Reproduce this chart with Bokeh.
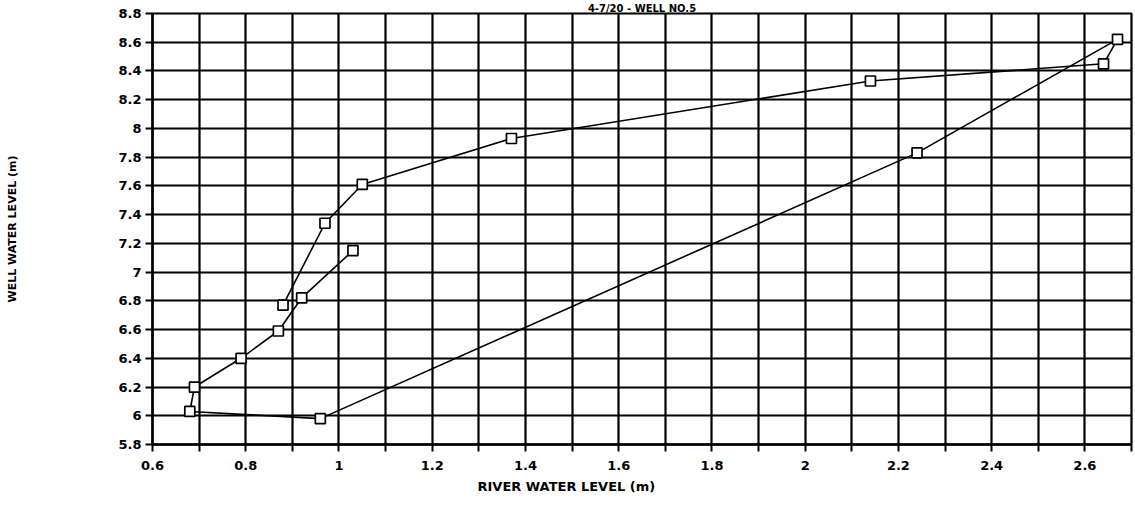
from bokeh.plotting import figure
from bokeh.models import Range1d, FixedTicker, Title
from bokeh.embed import file_html
from bokeh.resources import INLINE

# ---- data ----
river_level = [1.03, 0.92, 0.87, 0.79, 0.69, 0.68, 0.96, 2.24, 2.67, 2.64, 2.14, 1.37, 1.05, 0.97, 0.88]
well_level = [7.15, 6.82, 6.59, 6.40, 6.20, 6.03, 5.98, 7.83, 8.62, 8.45, 8.33, 7.93, 7.61, 7.34, 6.77]

x_ticks = [0.6, 0.8, 1.0, 1.2, 1.4, 1.6, 1.8, 2.0, 2.2, 2.4, 2.6]
x_tick_labels = ["0.6", "0.8", "1", "1.2", "1.4", "1.6", "1.8", "2", "2.2", "2.4", "2.6"]
x_minor = [0.7, 0.9, 1.1, 1.3, 1.5, 1.7, 1.9, 2.1, 2.3, 2.5, 2.7]
y_ticks = [5.8, 6.0, 6.2, 6.4, 6.6, 6.8, 7.0, 7.2, 7.4, 7.6, 7.8, 8.0, 8.2, 8.4, 8.6, 8.8]
y_tick_labels = ["5.8", "6", "6.2", "6.4", "6.6", "6.8", "7", "7.2", "7.4", "7.6", "7.8", "8", "8.2", "8.4", "8.6", "8.8"]

title_text = "4-7/20 - WELL NO.5"
x_title = "RIVER WATER LEVEL (m)"
y_title = "WELL WATER LEVEL (m)"

FONT = "DejaVu Sans"

p = figure(width=1133, height=498, output_backend="svg", toolbar_location=None,
           x_range=Range1d(0.6, 2.7), y_range=Range1d(5.8, 8.8),
           min_border_left=152, min_border_right=2, min_border_top=13, min_border_bottom=20,
           background_fill_color="white", border_fill_color="white")

# top title (small, right above the frame)
p.title.text = title_text
p.title.align = "center"
p.title.offset = -29
p.title.standoff = 0
p.title.text_font = FONT
p.title.text_font_style = "bold"
p.title.text_font_size = "10px"
p.title.text_color = "black"

p.outline_line_color = "black"
p.outline_line_width = 2.2

xt = FixedTicker(ticks=x_ticks, minor_ticks=x_minor)
yt = FixedTicker(ticks=y_ticks, minor_ticks=[])
p.xaxis.ticker = xt
p.yaxis.ticker = yt
p.xgrid.ticker = xt
p.ygrid.ticker = yt

p.xaxis.major_label_overrides = {t: s for t, s in zip(x_ticks, x_tick_labels)}
p.yaxis.major_label_overrides = {t: s for t, s in zip(y_ticks, y_tick_labels)}

for g in (p.xgrid, p.ygrid):
    g.grid_line_color = "black"
    g.grid_line_width = 2.2
p.xgrid.minor_grid_line_color = "black"
p.xgrid.minor_grid_line_width = 2.2

for ax in (p.xaxis, p.yaxis):
    ax.axis_line_color = "black"
    ax.axis_line_width = 2.4
    ax.major_tick_line_color = "black"
    ax.major_tick_line_width = 2
    ax.major_tick_out = 7
    ax.major_tick_in = 0
    ax.major_label_text_font = FONT
    ax.major_label_text_font_style = "bold"
    ax.major_label_text_font_size = "13px"
    ax.major_label_text_color = "black"
p.xaxis.minor_tick_line_color = "black"
p.xaxis.minor_tick_line_width = 2
p.xaxis.minor_tick_out = 7
p.xaxis.minor_tick_in = 0
p.yaxis.minor_tick_line_color = None
p.xaxis.major_label_standoff = 9
p.yaxis.major_label_standoff = 4

# y axis title, far to the left
p.yaxis.axis_label = y_title
p.yaxis.axis_label_standoff = 96
p.yaxis.axis_label_text_font = FONT
p.yaxis.axis_label_text_font_style = "bold"
p.yaxis.axis_label_text_font_size = "11px"
p.yaxis.axis_label_text_color = "black"

# x axis title, left of centre as in the reference
p.add_layout(Title(text=x_title, align="left", offset=325, standoff=9,
                   text_font=FONT, text_font_style="bold", text_font_size="13px",
                   text_color="black"), "below")

p.line(river_level, well_level, line_color="black", line_width=1.6)
p.scatter(river_level, well_level, marker="square", size=10,
          fill_color="white", line_color="black", line_width=1.7)

open("out.html", "w").write(file_html(p, INLINE))
